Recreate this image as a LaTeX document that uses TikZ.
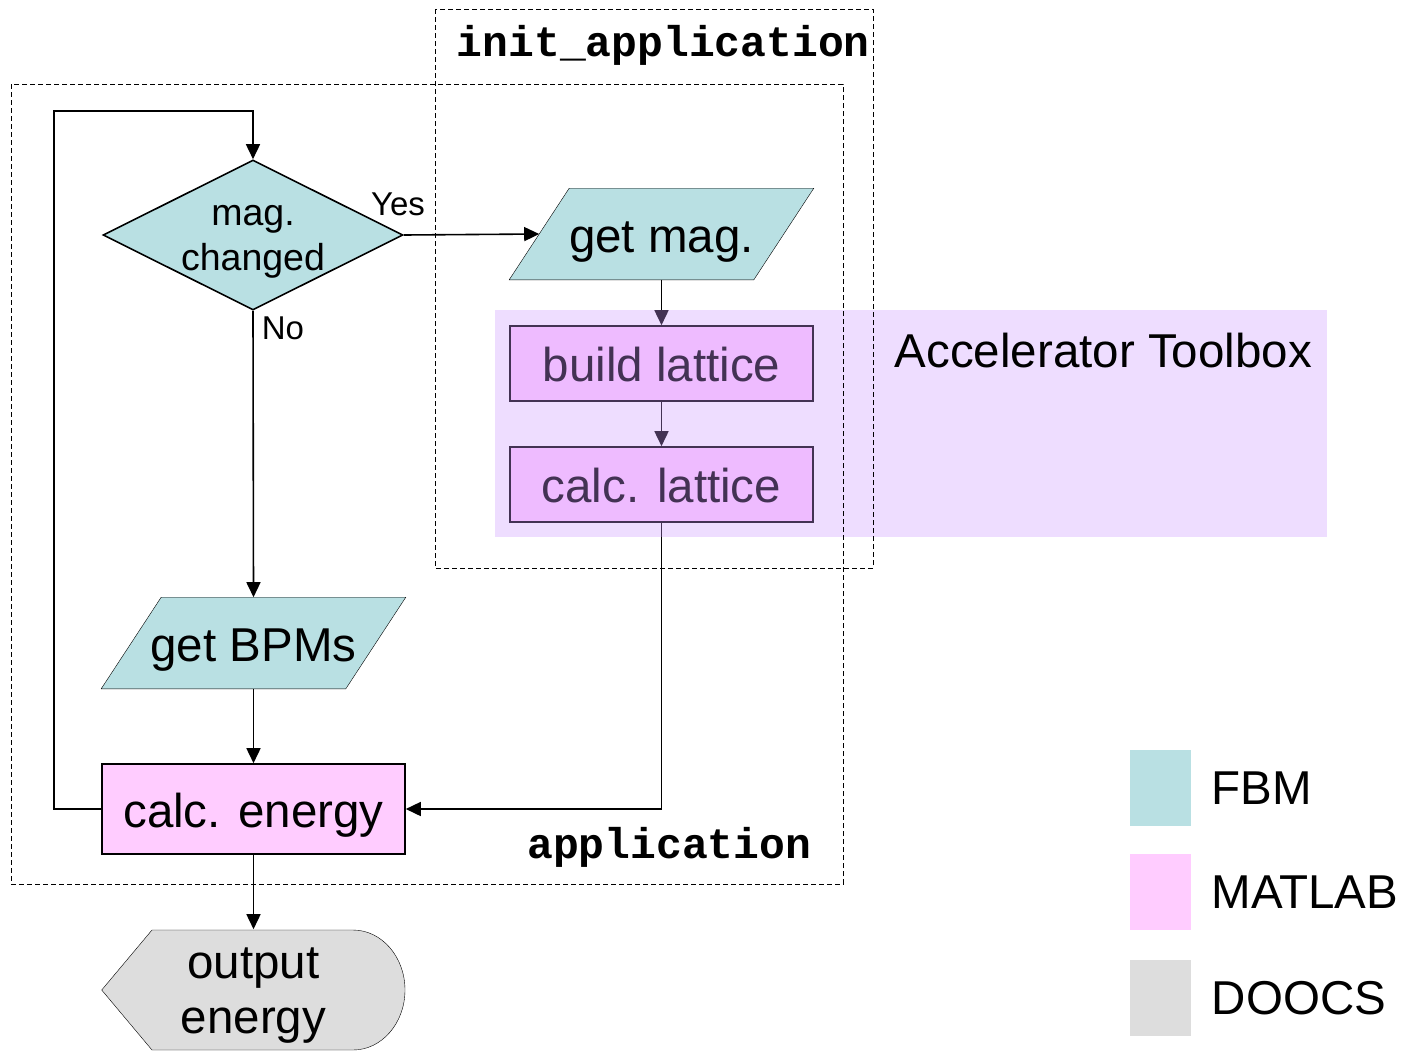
\documentclass[tikz,border=0pt]{standalone}
\usepackage{fontspec}
\setmainfont{Liberation Sans}
\newfontfamily\codefont{Liberation Mono}
\usetikzlibrary{shapes.geometric,arrows.meta,backgrounds}
\definecolor{FBMcyan}{RGB}{185,224,227}
\definecolor{MATpink}{RGB}{255,204,255}
\definecolor{DOOgray}{RGB}{221,221,221}
\definecolor{ATlilac}{RGB}{204,153,255}
\newcommand\linetop{\rule{0pt}{0.9em}}

\begin{document}
\begin{tikzpicture}[x=1pt,y=-1pt,line width=1.6pt,
  >={Triangle[length=15pt,width=14pt]},
  big/.style={font=\fontsize{47.5}{55}\selectfont},
  oneline/.style={big,text height=46pt,text depth=10pt},
  iobox/.style={oneline,inner sep=0pt,minimum width=243pt,minimum height=90pt},
  matbox/.style={draw,fill=MATpink,oneline,inner sep=0pt,minimum width=303pt},
  frame/.style={line width=1pt,dash pattern=on 5pt off 3pt},
  code/.style={font=\codefont\bfseries\fontsize{43}{48}\selectfont,inner sep=0pt},
  small/.style={font=\fontsize{33}{36}\selectfont,inner sep=0pt},
]
\useasboundingbox (0,0) rectangle (1410,1050);

\node[draw,fill=FBMcyan,diamond,aspect=2,inner sep=-5pt,minimum width=300pt,
      minimum height=150pt,align=center,font=\fontsize{37.5}{45.5}\selectfont]
      (chg) at (253,235) {\linetop mag.\\changed};
\node[iobox] (getmag) at (661.5,234) {get mag.};
\node[matbox,minimum height=75pt] (build) at (661.5,363.5) {build lattice};
\node[matbox,minimum height=75pt] (calclat) at (661.5,484.5) {calc. lattice};
\node[iobox] (getbpm) at (253.5,643) {get BPMs};
\node[matbox,minimum height=90pt] (energy) at (253.5,809) {calc. energy};
\node[big,align=center,inner sep=0pt,minimum width=302pt,minimum height=120pt]
      (out) at (253.5,990) {\linetop output\\energy};

% parallelograms and the display shape sit behind their texts
\begin{scope}[on background layer]
  \foreach \n in {getmag,getbpm}
    \draw[fill=FBMcyan] ([xshift=-30pt]\n.south west) -- ([xshift=30pt]\n.north west)
      -- ([xshift=30pt]\n.north east) -- ([xshift=-30pt]\n.south east) -- cycle;
  \draw[fill=DOOgray] (out.west) -- (152,930) -- (353,930)
    arc[start angle=90,end angle=-90,x radius=52pt,y radius=60pt] -- (152,1050) -- cycle;
\end{scope}

\node[small] (yes) at (398,204) {Yes};
\node[small] (no) at (283,328) {No};

\draw[->] (chg.east) -- (getmag.west);
\draw[->] (chg.south) -- (getbpm.north);
\draw[->] (getmag.south) -- (build.north);
\draw[->] (build) -- (calclat);
\draw[->] (getbpm.south) -- (energy.north);
\draw[->] (calclat.south) |- (energy.east);
\draw[->] (energy.south) -- (out.north);
\draw[->] (energy.west) -| (54,111) -| (chg.north);

% Accelerator Toolbox area
\fill[ATlilac,fill opacity=0.33] (495,310) rectangle (1327,537);
\node[big,anchor=west,inner sep=0pt] (at) at (894,351) {Accelerator Toolbox};

% code frames
\draw[frame] (435,9) rectangle (873,568);
\draw[frame] (11,84) rectangle (843,884);
\node[code,anchor=base west] (initapp) at (456,56) {init\_application};
\node[code,anchor=base east] (app) at (812,858) {application};

% legend
\foreach \c/\t/\y in {FBMcyan/FBM/788,MATpink/MATLAB/892,DOOgray/DOOCS/998}{
  \node[fill=\c,minimum width=61pt,minimum height=76pt,inner sep=0pt] (key\t) at (1160.5,\y) {};
  \node[big,anchor=west,inner sep=0pt] (lbl\t) at (1211,\y) {\t};
}
\end{tikzpicture}
\end{document}
